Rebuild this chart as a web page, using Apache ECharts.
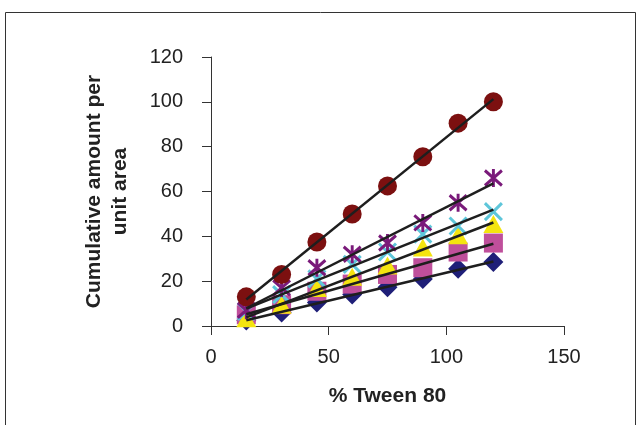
<!DOCTYPE html>
<html><head><meta charset="utf-8">
<script src="https://cdn.jsdelivr.net/npm/echarts@6/dist/echarts.min.js"></script>
<style>html,body{margin:0;padding:0;background:#fff}#c{width:641px;height:425px}</style>
</head><body><div id="c"></div>
<script>
const xValues = [15, 30, 45, 60, 75, 90, 105, 120];
const diamondSeries = [2.5, 6, 10.5, 14, 17.3, 21, 25.5, 28.5];
const squareSeries = [5, 9.5, 15.5, 18.7, 23, 26, 33, 37];
const triangleSeries = [3.5, 9.5, 17, 22, 27, 35, 40.5, 45.5];
const crossSeries = [6.5, 14, 21, 27.5, 33, 41, 44.6, 51];
const starSeries = [7, 17, 26, 32, 37, 46, 55, 66];
const circleSeries = [13, 23, 37.5, 50, 62.5, 75.5, 90.5, 100];
const xTicks = [0, 50, 100, 150];
const yTicks = [0, 20, 40, 60, 80, 100, 120];

const FONT = "'Liberation Sans', Arial, sans-serif";

function pairs(ys){ return xValues.map((x,i)=>[x, ys[i]]); }
function fit(ys){
  const n = xValues.length;
  const mx = xValues.reduce((a,b)=>a+b,0)/n;
  const my = ys.reduce((a,b)=>a+b,0)/n;
  let sxy=0, sxx=0;
  for(let i=0;i<n;i++){ sxy+=(xValues[i]-mx)*(ys[i]-my); sxx+=(xValues[i]-mx)**2; }
  const b = sxy/sxx, a = my - b*mx;
  const x0 = xValues[0], x1 = xValues[n-1];
  return [[x0, a+b*x0],[x1, a+b*x1]];
}

const crossPath = 'path://M0 0L100 100M100 0L0 100';
const starPath = 'path://M0 0L100 100M100 0L0 100M50 -10L50 110';

const markerDefs = [
  {d: diamondSeries, symbol:'diamond', size:[20,20], color:'#1f1f78'},
  {d: squareSeries, symbol:'rect', size:[19,19], color:'#bf4f9b'},
  {d: triangleSeries, symbol:'triangle', size:[20,18], color:'#f4e410'},
  {d: crossSeries, symbol:crossPath, size:[17,17], color:'#5ec6da', stroke:true},
  {d: starSeries, symbol:starPath, size:[17,18], color:'#7a1a7a', stroke:true},
  {d: circleSeries, symbol:'circle', size:[19,19], color:'#7c1010'}
];

const series = [];
markerDefs.forEach((m,i)=>{
  series.push({
    type:'scatter', data: pairs(m.d), symbol:m.symbol, symbolSize:m.size, z: 2+i,
    itemStyle: m.stroke ? {color:'rgba(0,0,0,0)', borderColor:m.color, borderWidth:3, opacity:1} : {color:m.color, opacity:1},
    emphasis:{disabled:true}, silent:true, animation:false
  });
});
markerDefs.forEach(m=>{
  series.push({
    type:'line', data: fit(m.d), symbol:'none', z: 20,
    lineStyle:{color:'#1e1e1e', width:2.5}, silent:true, animation:false
  });
});

const chart = echarts.init(document.getElementById('c'), null, {renderer:'canvas'});
chart.setOption({
  animation:false,
  backgroundColor:'#fff',
  grid:{left:211, right:77, top:57, bottom:99, containLabel:false},
  graphic:[{type:'rect', shape:{x:5.5, y:12.5, width:630, height:430}, style:{fill:'none', stroke:'#333', lineWidth:1}, silent:true}],
  xAxis:{
    type:'value', min:xTicks[0], max:xTicks[xTicks.length-1], interval:50,
    name:'% Tween 80', nameLocation:'middle', nameGap:60,
    nameTextStyle:{fontFamily:FONT, fontSize:21, fontWeight:'bold', color:'#222'},
    axisLine:{show:true, onZero:false, lineStyle:{color:'#333', width:1}},
    axisTick:{show:true, length:9, lineStyle:{color:'#333'}},
    axisLabel:{fontFamily:FONT, fontSize:20, color:'#222', margin:21},
    splitLine:{show:false}
  },
  yAxis:{
    type:'value', min:yTicks[0], max:yTicks[yTicks.length-1], interval:20,
    name:'Cumulative amount per\nunit area', nameLocation:'middle', nameGap:78, nameRotate:90,
    nameTextStyle:{fontFamily:FONT, fontSize:21, fontWeight:'bold', color:'#222', lineHeight:26},
    axisLine:{show:true, lineStyle:{color:'#333', width:1}},
    axisTick:{show:true, length:9, lineStyle:{color:'#333'}},
    axisLabel:{fontFamily:FONT, fontSize:20, color:'#222', margin:28},
    splitLine:{show:false}
  },
  series: series
});
</script></body></html>
